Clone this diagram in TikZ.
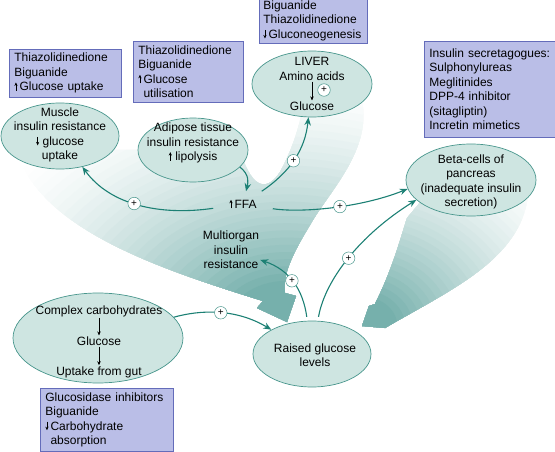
\documentclass[tikz,border=0pt]{standalone}
\usepackage{fontspec}
\setmainfont{Liberation Sans}
\usetikzlibrary{arrows.meta,shapes.geometric}
\hyphenpenalty=10000

\definecolor{organfill}{RGB}{206,229,225}
\definecolor{organline}{RGB}{72,150,140}
\definecolor{flow}{RGB}{28,128,116}
\definecolor{drugfill}{RGB}{186,190,231}
\definecolor{drugline}{RGB}{100,108,186}
\definecolor{band}{RGB}{118,176,172}

\newcommand{\uptick}{\tikz[baseline=0pt,x=1pt,y=1pt]\draw[-{Stealth[length=3.5pt,width=3.2pt]},line width=0.6pt] (0,0) -- (0,8.5);}
\newcommand{\downtick}{\tikz[baseline=0pt,x=1pt,y=1pt]\draw[-{Stealth[length=3.5pt,width=3.2pt]},line width=0.6pt] (0,8.5) -- (0,0);}

\begin{document}
\begin{tikzpicture}[x=1pt, y=-1pt,
	organ/.style={ellipse, draw=organline, fill=organfill, line width=0.7pt},
	drug/.style={rectangle, draw=drugline, fill=drugfill, line width=0.7pt, anchor=north west, align=left, inner xsep=5pt, inner ysep=0pt, font=\fontsize{12}{14.5}\selectfont},
	txt/.style={align=center, inner sep=1pt, font=\fontsize{12}{14.5}\selectfont},
	flowline/.style={draw=flow, line width=1.1pt, -{Stealth[length=8pt,width=6.5pt]}},
	plus/.style={circle, draw=organline, fill=white, line width=0.5pt, inner sep=0pt, minimum size=12.5pt, font=\fontsize{10}{10}\selectfont},
	small/.style={-{Stealth[length=4pt,width=3.5pt]}, line width=0.6pt}]

	\useasboundingbox (0,0) rectangle (555,452);

	% shaded bands, darkest at the tips
	\begin{scope}
		\clip (20,150) -- (240,150) .. controls (250,185) and (265,195) .. (280,172) .. controls (292,150) and (298,130) .. (302,112) -- (362,100) .. controls (372,150) and (330,190) .. (310,225) .. controls (290,258) and (283,275) .. (285,293) -- (296,296) -- (287,322) -- (257,308) -- (263,301) .. controls (170,272) and (55,235) .. (22,165) -- cycle;
		\foreach \i in {0,...,29} {
			\pgfmathsetmacro{\rad}{250-\i*7.2}
			\pgfmathsetmacro{\amt}{100*(\i/29)*sqrt(\i/29)}
			\fill[band!\amt!white] (287,322) ellipse ({1.4*\rad} and \rad);
		}
	\end{scope}
	\begin{scope}
		\clip (422,200) -- (528,196) .. controls (520,260) and (450,290) .. (385,328) -- (362,326) -- (369,306) -- (375,304) .. controls (392,270) and (400,240) .. (407,218) -- cycle;
		\foreach \i in {0,...,29} {
			\pgfmathsetmacro{\rad}{215-\i*6.4}
			\pgfmathsetmacro{\amt}{100*(\i/29)*sqrt(\i/29)}
			\fill[band!\amt!white] (362,326) ellipse ({1.2*\rad} and \rad);
		}
	\end{scope}

	% organs
	\node[organ, minimum width=118pt, minimum height=66pt] (muscle) at (60,136) {};
	\node[organ, minimum width=110pt, minimum height=64pt] (adipose) at (193,150) {};
	\node[organ, minimum width=120pt, minimum height=66pt] (liver) at (312,84) {};
	\node[organ, minimum width=130pt, minimum height=72pt] (beta) at (471,180) {};
	\node[organ, minimum width=170pt, minimum height=90pt] (complex) at (98,338) {};
	\node[organ, minimum width=118pt, minimum height=66pt] (raised) at (312,354) {};

	\node[txt] (musclet) at (60,135) {Muscle\\insulin resistance\\\downtick\ glucose\\uptake};
	\node[txt] (adiposet) at (193,143) {Adipose tissue\\insulin resistance\\\uptick\ lipolysis};
	\node[txt] (livert) at (312,61) {LIVER};
	\node[txt] (amino) at (312,76) {Amino acids};
	\node[txt] (liverg) at (312,106) {Glucose};
	\node[plus] (pamino) at (324,90) {+};
	\draw[small] (amino) -- (liverg);
	\node[txt] (betat) at (471,182) {Beta-cells of\\pancreas\\(inadequate insulin\\secretion)};
	\node[txt] (carbs) at (99,311) {Complex carbohydrates};
	\node[txt] (cglucose) at (99,341) {Glucose};
	\node[txt] (gut) at (99,372) {Uptake from gut};
	\draw[small] (carbs) -- (cglucose);
	\draw[small] (cglucose) -- (gut);
	\node[txt] (raisedt) at (315,355) {Raised glucose\\levels};
	\node[txt, inner xsep=16pt, inner ysep=8pt] (ffa) at (243,204) {\uptick\,FFA};
	\node[txt] (multi) at (231,250) {Multiorgan\\insulin\\resistance};

	% drugs
	\node[drug, text width=102pt, minimum height=48pt] (musclebox) at (9,49) {Thiazolidinedione\\Biguanide\\\uptick\,Glucose uptake};
	\node[drug, text width=100pt, minimum height=61pt] (adiposebox) at (133,41) {Thiazolidinedione\\Biguanide\\\uptick\,Glucose\\\phantom{\uptick\,}utilisation};
	\node[drug, inner xsep=4pt, text width=100pt, minimum height=45pt] (liverbox) at (259,-2) {Biguanide\\Thiazolidinedione\\\downtick\,Gluconeogenesis};
	\node[drug, text width=121pt, minimum height=96pt] (betabox) at (424,41) {Insulin~secretagogues:\\Sulphonylureas\\Meglitinides\\DPP-4 inhibitor\\(sitagliptin)\\Incretin mimetics};
	\node[drug, text width=123pt, minimum height=63pt] (complexbox) at (40,388) {Glucosidase inhibitors\\Biguanide\\\downtick\,Carbohydrate\\\phantom{\downtick\,}absorption};

	% arrows
	\draw[flowline] (ffa) .. controls (160,216) and (110,205) .. (muscle) node[plus, pos=0.53] (pmuscle) {+};
	\draw[flowline] (adipose.340) .. controls (250,175) and (248,183) .. (ffa);
	\draw[flowline] (ffa) .. controls (290,172) and (305,150) .. (liver) node[plus, pos=0.48] (pliver) {+};
	\draw[flowline] (ffa) .. controls (300,213) and (360,208) .. (beta.188) node[plus, pos=0.55] (pbeta) {+};
	\draw[flowline, shorten <=4pt] (raised) .. controls (325,280) and (360,235) .. (beta.200) node[plus, pos=0.5] (praised) {+};
	\draw[flowline, shorten <=4pt] (raised) .. controls (303,290) and (290,270) .. (multi) node[plus, pos=0.53] (pmulti) {+};
	\draw[flowline] (complex) .. controls (200,310) and (235,308) .. (raised) node[plus, pos=0.52] (pcomplex) {+};
\end{tikzpicture}
\end{document}
